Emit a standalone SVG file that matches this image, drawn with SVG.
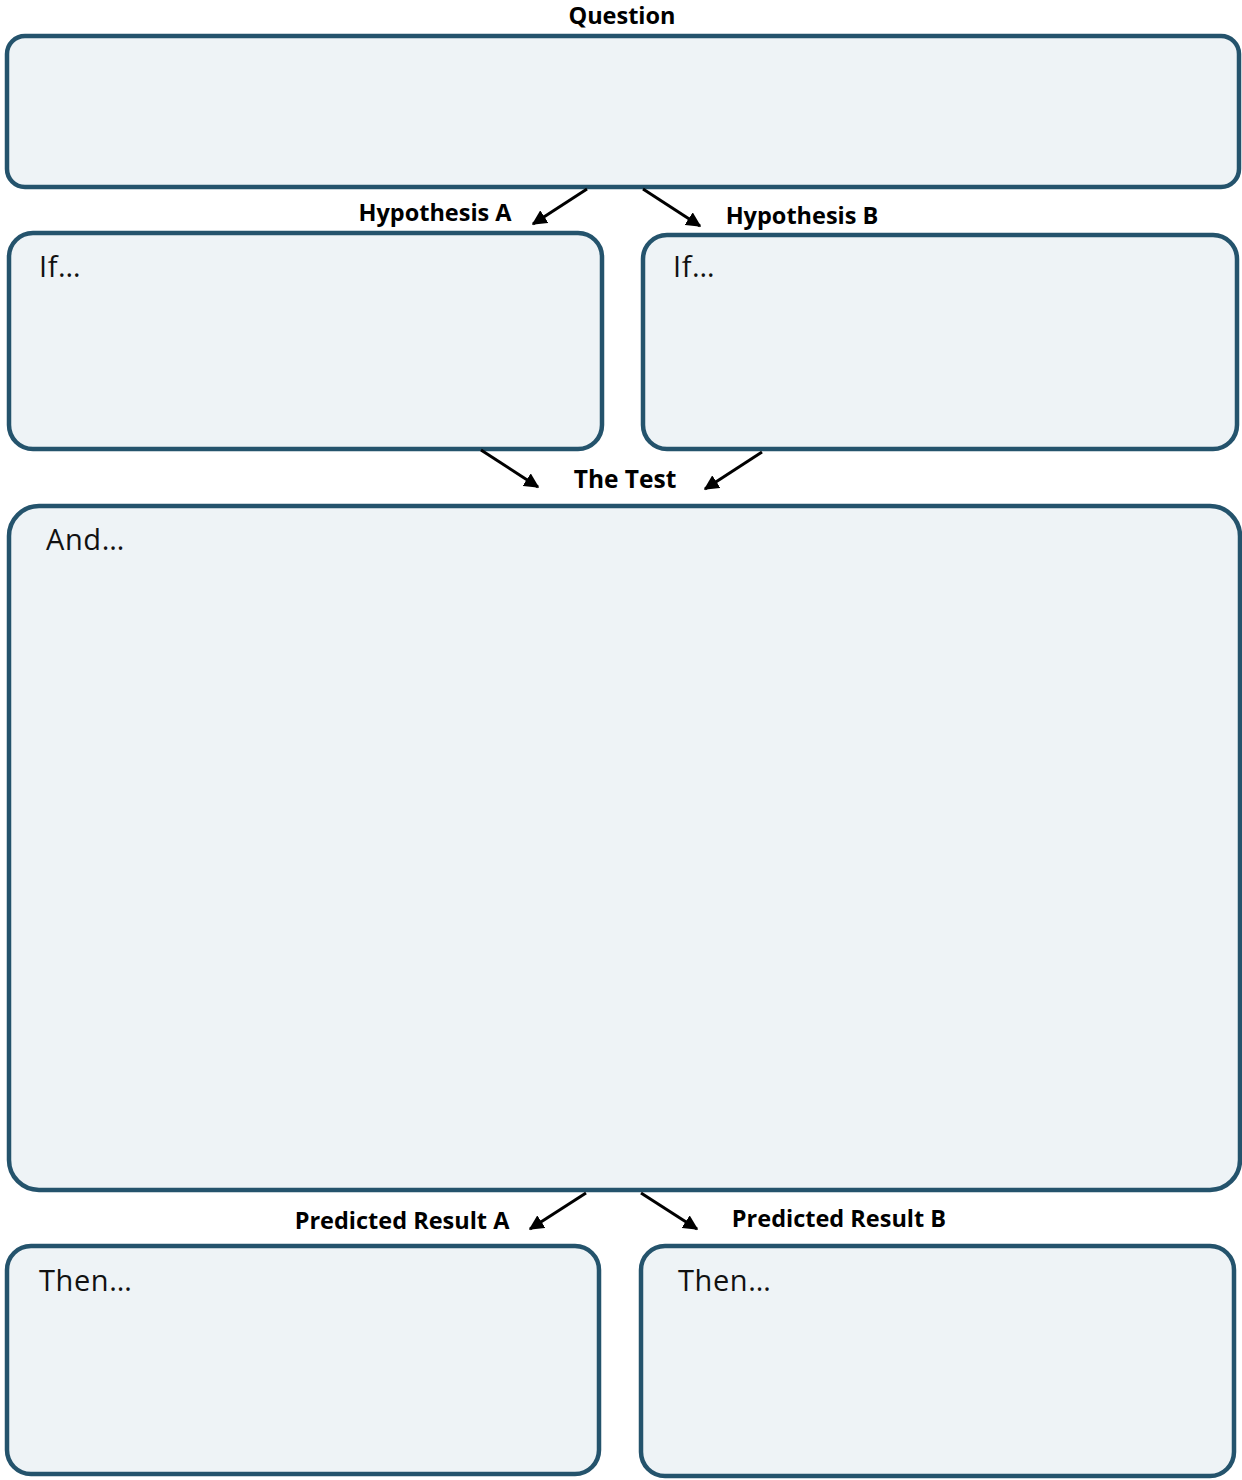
<svg xmlns="http://www.w3.org/2000/svg" width="1242" height="1480" viewBox="0 0 1242 1480">
<defs>
<style>
.box{fill:#eef3f6;stroke:#24536c;stroke-width:4.5}
.lbl{font-family:"Open Sans","Liberation Sans",sans-serif;font-weight:bold;font-size:23.5px;fill:#000}
.txt{font-family:"Open Sans","Liberation Sans",sans-serif;font-size:29px;letter-spacing:0.6px;fill:#111}
.con{stroke:#000;stroke-width:3;fill:none;marker-end:url(#ah)}
</style>
<marker id="ah" viewBox="0 0 10 10" refX="9" refY="5" markerWidth="5" markerHeight="5" orient="auto" markerUnits="strokeWidth">
<path d="M0,0 L10,5 L0,10 z" fill="#000"/>
</marker>
</defs>
<rect width="1242" height="1480" fill="#fff"/>
<g id="question">
<rect class="box" x="7" y="36" width="1232" height="151" rx="18"/>
<text class="lbl" x="622" y="24" text-anchor="middle">Question</text>
</g>
<g id="hypA">
<rect class="box" x="9" y="233" width="593" height="216" rx="24"/>
<text class="lbl" x="435" y="221" text-anchor="middle">Hypothesis A</text>
<text class="txt" x="39" y="277">If…</text>
</g>
<g id="hypB">
<rect class="box" x="643" y="235" width="594" height="214" rx="24"/>
<text class="lbl" x="802" y="224" text-anchor="middle">Hypothesis B</text>
<text class="txt" x="673" y="277">If…</text>
</g>
<g id="test">
<rect class="box" x="9" y="506" width="1231" height="684" rx="30"/>
<text class="lbl" x="625" y="488" text-anchor="middle" style="font-size:24.5px">The Test</text>
<text class="txt" x="46" y="550">And…</text>
</g>
<g id="resultA">
<rect class="box" x="7" y="1246" width="592" height="228" rx="24"/>
<text class="lbl" x="402" y="1229" text-anchor="middle">Predicted Result A</text>
<text class="txt" x="39" y="1291">Then…</text>
</g>
<g id="resultB">
<rect class="box" x="641" y="1246" width="593" height="230" rx="24"/>
<text class="lbl" x="839" y="1227" text-anchor="middle">Predicted Result B</text>
<text class="txt" x="678" y="1291">Then…</text>
</g>
<g id="connectors">
<line class="con" x1="587" y1="189" x2="533" y2="224"/>
<line class="con" x1="643" y1="189" x2="700" y2="226"/>
<line class="con" x1="481" y1="450" x2="538" y2="487"/>
<line class="con" x1="762" y1="452" x2="705" y2="489"/>
<line class="con" x1="586" y1="1193" x2="530" y2="1229"/>
<line class="con" x1="641" y1="1193" x2="697" y2="1229"/>
</g>
</svg>
